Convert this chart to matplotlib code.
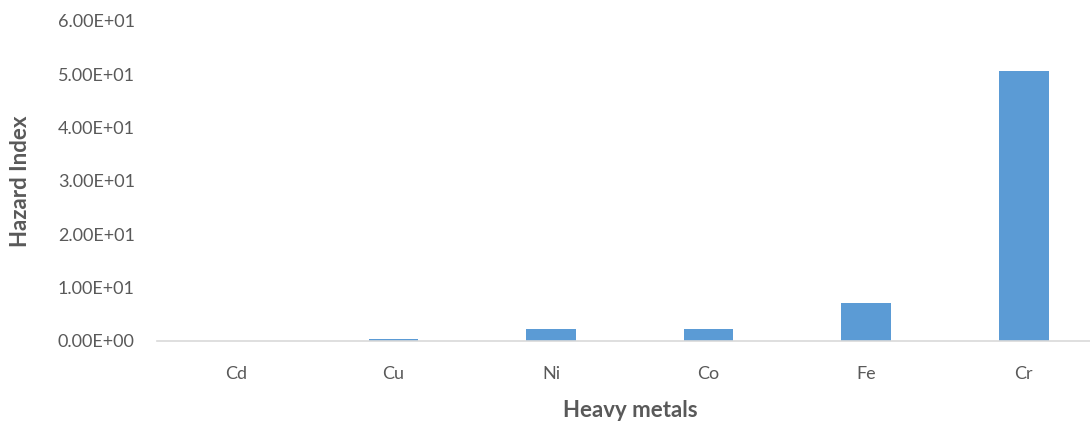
import matplotlib.pyplot as plt

metals = ["Cd", "Cu", "Ni", "Co", "Fe", "Cr"]
hazard_index = [0.02, 0.4, 2.3, 2.2, 7.2, 50.6]
y_ticks = [0, 10, 20, 30, 40, 50, 60]

text_color = "#595959"
plt.rcParams["font.family"] = ["Lato", "DejaVu Sans"]

fig = plt.figure(figsize=(10.9, 4.23), dpi=100)
ax = fig.add_axes([0.144, 0.194, 0.856, 0.757])

ax.bar(range(len(metals)), hazard_index, width=0.315, color="#5B9BD5")

ax.set_xlim(-0.5, 5.42)
ax.set_ylim(0, 60)
ax.set_yticks(y_ticks)
ax.set_yticklabels([f"{v:.2E}" for v in y_ticks])
ax.set_xticks(range(len(metals)))
ax.set_xticklabels(metals)

for side in ["top", "right", "left"]:
    ax.spines[side].set_visible(False)
ax.spines["bottom"].set_color("#D9D9D9")
ax.spines["bottom"].set_linewidth(1.2)
ax.tick_params(axis="both", length=0, labelsize=13, labelcolor=text_color)
ax.tick_params(axis="y", pad=16)
ax.tick_params(axis="x", pad=18)

ax.set_xlabel("Heavy metals", fontsize=16, fontweight="bold", color=text_color, labelpad=13)
ax.set_ylabel("Hazard Index", fontsize=16, fontweight="bold", color=text_color, labelpad=19)
ax.xaxis.label.set_x(0.507)

fig.savefig("out.png")
plt.close(fig)
